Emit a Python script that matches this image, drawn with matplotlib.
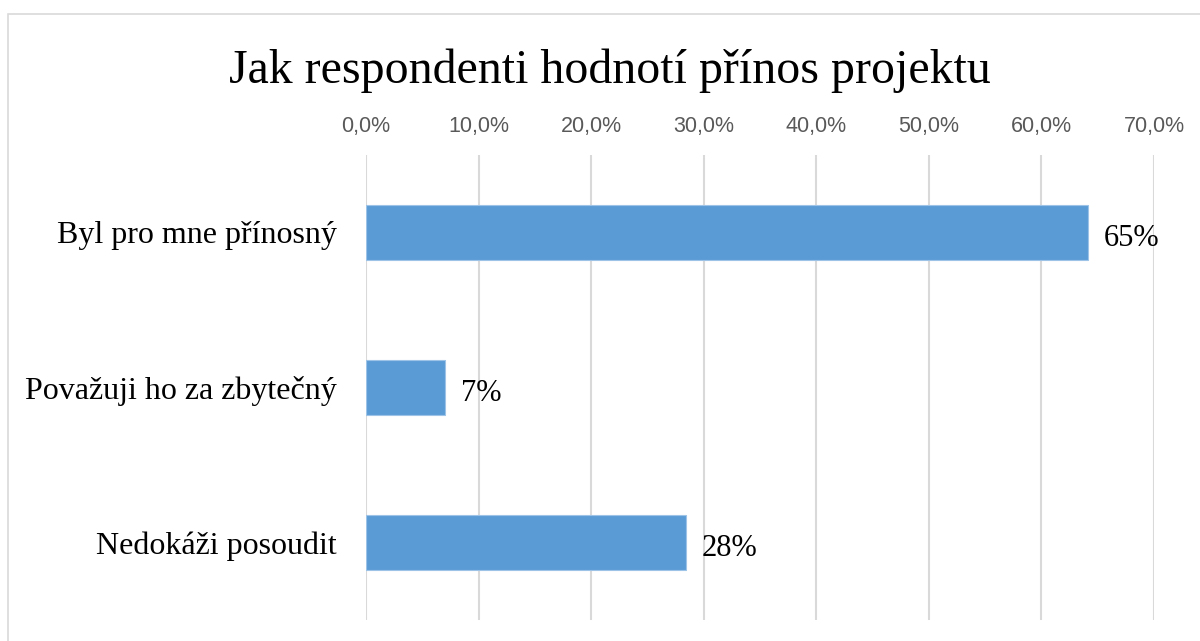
import numpy as np
import matplotlib.pyplot as plt
from matplotlib.patches import Rectangle

categories = ['Byl pro mne přínosný', 'Považuji ho za zbytečný', 'Nedokáži posoudit']
values = [64.1, 7.0, 28.4]
value_labels = ['65%', '7%', '28%']
ticks = [0, 10, 20, 30, 40, 50, 60, 70]
tick_labels = ['0,0%', '10,0%', '20,0%', '30,0%', '40,0%', '50,0%', '60,0%', '70,0%']

serif = 'Liberation Serif'
sans = 'Liberation Sans'

fig = plt.figure(figsize=(12, 6.41), dpi=100)
ax = fig.add_axes([0.305, 0.0328, 0.6567, 0.7254])

y = np.arange(len(categories))
ax.barh(y, values, height=0.355, color='#5B9BD5', edgecolor='#9DC3E6', linewidth=0.8, zorder=3)

for yi, v, lab in zip(y, values, value_labels):
    ax.text(v + 1.4, yi + 0.04, lab, va='center', ha='left', fontsize=22, family=serif, color='black')

ax.set_xlim(0, 70)
ax.set_ylim(2.5, -0.5)
ax.set_xticks(ticks)
ax.set_xticklabels(tick_labels, family=sans, fontsize=15.5, color='#595959')
ax.xaxis.tick_top()
ax.tick_params(axis='x', length=0, pad=13)
ax.set_yticks(y)
ax.set_yticklabels(categories, family=serif, fontsize=23)
ax.tick_params(axis='y', length=0, pad=21)
ax.grid(axis='x', color='#D9D9D9', linewidth=1.5, zorder=0)
for s in ax.spines.values():
    s.set_visible(False)

fig.text(0.508, 0.889, 'Jak respondenti hodnotí přínos projektu', ha='center', va='center',
         fontsize=34.5, family=serif)

# outer chart frame (left and top edges visible)
fig.patches.append(Rectangle((8 / 1200, -0.05), 1.2, 1 - 14 / 641 + 0.05,
                             transform=fig.transFigure, fill=False, edgecolor='#D9D9D9', linewidth=1.2))

fig.savefig('out.png', dpi=100)
